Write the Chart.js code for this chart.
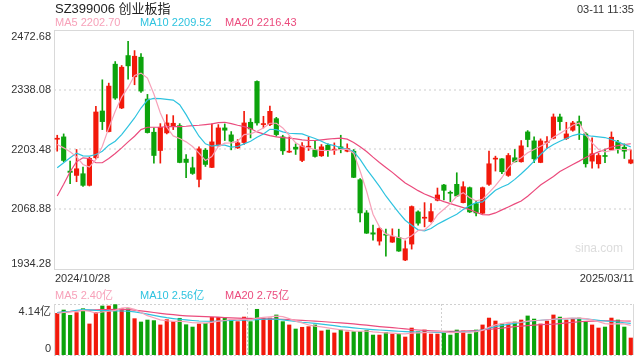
<!DOCTYPE html>
<html>
<head>
<meta charset="utf-8">
<script src="https://cdn.jsdelivr.net/npm/chart.js@4/dist/chart.umd.min.js"></script>
<style>
body { margin: 0; background: #fff; }
#wrap { position: relative; width: 640px; height: 360px; overflow: hidden;
  font-family: "Liberation Sans", Arial, "Noto Sans CJK SC", sans-serif; }
canvas { position: absolute; left: 0; top: 0; }
.t { position: absolute; white-space: nowrap; font-size: 11px; line-height: 12px; color: #333; }
</style>
</head>
<body>
<div id="wrap">
  <canvas id="kline" width="640" height="360"></canvas>
  <canvas id="vol" width="640" height="360"></canvas>
  <div class="t" style="left:55px;top:1px;font-size:13px;line-height:15px;color:#222">SZ399006 创业板指</div>
  <div class="t" style="right:6px;top:3px">03-11 11:35</div>
  <div class="t" id="lg5" style="left:55px;top:16px;color:#f7a1b9"></div>
  <div class="t" id="lg10" style="left:140px;top:16px;color:#2ec3df"></div>
  <div class="t" id="lg20" style="left:225px;top:16px;color:#eb4b7d"></div>
  <div class="t" style="left:575px;top:242px;font-size:12px;color:#dcdcdc">sina.com</div>
  <div class="t" id="d0" style="left:55px;top:272px"></div>
  <div class="t" id="d1" style="right:6px;top:272px"></div>
  <div class="t" id="vl5" style="left:55px;top:289px;color:#f7a1b9"></div>
  <div class="t" id="vl10" style="left:140px;top:289px;color:#2ec3df"></div>
  <div class="t" id="vl20" style="left:225px;top:289px;color:#eb4b7d"></div>
</div>
<script>
// 交易日
const dates = ['2024/10/28','2024/10/29','2024/10/30','2024/10/31',
  '2024/11/01','2024/11/04','2024/11/05','2024/11/06','2024/11/07','2024/11/08',
  '2024/11/11','2024/11/12','2024/11/13','2024/11/14','2024/11/15',
  '2024/11/18','2024/11/19','2024/11/20','2024/11/21','2024/11/22',
  '2024/11/25','2024/11/26','2024/11/27','2024/11/28','2024/11/29',
  '2024/12/02','2024/12/03','2024/12/04','2024/12/05','2024/12/06',
  '2024/12/09','2024/12/10','2024/12/11','2024/12/12','2024/12/13',
  '2024/12/16','2024/12/17','2024/12/18','2024/12/19','2024/12/20',
  '2024/12/23','2024/12/24','2024/12/25','2024/12/26','2024/12/27',
  '2024/12/30','2024/12/31','2025/01/02','2025/01/03',
  '2025/01/06','2025/01/07','2025/01/08','2025/01/09','2025/01/10',
  '2025/01/13','2025/01/14','2025/01/15','2025/01/16','2025/01/17',
  '2025/01/20','2025/01/21','2025/01/22','2025/01/23','2025/01/24','2025/01/27',
  '2025/02/05','2025/02/06','2025/02/07',
  '2025/02/10','2025/02/11','2025/02/12','2025/02/13','2025/02/14',
  '2025/02/17','2025/02/18','2025/02/19','2025/02/20','2025/02/21',
  '2025/02/24','2025/02/25','2025/02/26','2025/02/27','2025/02/28',
  '2025/03/03','2025/03/04','2025/03/05','2025/03/06','2025/03/07',
  '2025/03/10','2025/03/11'];

const open = [2226.6,2231.9,2154.9,2145.1,2148.9,2122.7,2184.8,2290.2,2243.9,2395.7,
  2297.0,2415.1,2367.2,2411.4,2317.1,2242.4,2201.2,2240.9,2255.1,2257.3,
  2181.8,2162.3,2136.2,2202.0,2163.1,2211.7,2252.1,2236.4,2207.2,2219.2,
  2264.8,2356.8,2259.6,2259.6,2273.0,2231.9,2197.5,2208.7,2178.8,2208.7,
  2202.7,2189.3,2213.2,2202.0,2209.5,2199.7,2199.7,2135.4,2060.6,2015.8,
  1997.1,2012.0,1994.8,2005.3,1954.5,1990.4,2062.9,2048.7,2041.2,2089.1,
  2123.5,2106.3,2125.0,2083.8,2117.5,2081.6,2059.9,2125.0,2181.8,2182.5,
  2145.1,2184.8,2175.8,2243.1,2222.9,2174.3,2219.2,2228.9,2276.8,2228.2,
  2246.9,2266.3,2238.6,2177.3,2171.3,2189.3,2202.7,2219.9,2208.7,2172.8];
const high = [2235.6,2238.6,2177.3,2203.5,2163.8,2186.3,2300.7,2360.5,2353.0,2401.6,
  2392.7,2447.3,2426.3,2419.6,2327.6,2252.1,2261.8,2282.0,2279.8,2261.8,
  2192.3,2186.3,2209.5,2205.7,2261.1,2259.6,2261.1,2243.9,2225.9,2289.5,
  2273.0,2358.3,2278.3,2301.4,2276.0,2235.6,2231.9,2216.2,2219.2,2231.9,
  2222.2,2214.7,2216.2,2218.4,2235.6,2216.2,2203.5,2137.7,2065.9,2033.0,
  2027.7,2024.0,2024.8,2024.0,1997.8,2076.4,2065.1,2083.8,2081.6,2116.7,
  2125.0,2110.0,2151.1,2130.9,2119.0,2087.6,2119.0,2199.7,2188.5,2183.3,
  2194.5,2203.5,2223.7,2246.1,2231.9,2227.4,2232.6,2283.5,2283.5,2264.8,
  2267.0,2279.0,2241.6,2229.6,2194.5,2204.2,2243.1,2224.4,2216.2,2202.7];
const low = [2199.7,2175.8,2126.5,2130.9,2120.5,2121.2,2182.5,2248.3,2243.1,2316.4,
  2295.5,2362.0,2349.3,2332.1,2240.5,2172.8,2172.8,2238.6,2248.3,2173.5,
  2139.9,2147.4,2119.0,2165.3,2162.3,2211.0,2223.7,2202.7,2205.7,2214.7,
  2229.6,2258.1,2252.1,2257.3,2233.4,2192.3,2196.7,2192.3,2175.8,2201.2,
  2186.3,2187.8,2187.8,2192.3,2196.0,2198.2,2140.0,2040.5,2014.3,1999.3,
  1988.1,1963.4,1994.1,1973.9,1953.0,1979.1,2033.0,2029.2,2039.7,2087.6,
  2089.8,2086.1,2097.3,2083.1,2061.4,2053.9,2059.2,2122.7,2154.9,2148.9,
  2142.9,2175.1,2175.0,2209.5,2173.6,2173.6,2205.7,2227.4,2246.9,2225.9,
  2244.6,2225.9,2163.8,2161.6,2161.6,2173.6,2201.2,2195.3,2183.3,2171.3];
const close = [2228.2,2178.8,2151.9,2160.1,2122.7,2183.3,2288.0,2266.3,2346.3,2319.4,
  2388.9,2391.9,2413.6,2335.1,2241.6,2190.0,2253.6,2263.3,2262.6,2174.3,
  2174.3,2149.6,2205.0,2169.8,2220.7,2252.1,2246.9,2222.2,2218.4,2263.3,
  2249.8,2263.3,2261.1,2289.5,2237.1,2200.5,2199.0,2204.2,2211.7,2210.2,
  2187.8,2209.5,2202.0,2203.5,2204.2,2205.7,2140.7,2060.6,2015.0,2012.8,
  2025.5,2010.5,2007.6,1974.7,1979.9,2074.9,2037.5,2050.2,2063.6,2101.0,
  2111.5,2104.8,2098.8,2119.7,2062.9,2060.6,2117.5,2171.3,2183.3,2153.4,
  2190.0,2175.8,2211.7,2225.9,2182.5,2222.9,2220.7,2276.8,2266.3,2238.6,
  2263.3,2257.3,2171.3,2193.8,2190.0,2187.8,2231.1,2205.7,2199.7,2180.3];

const ma5 = [2214.7,2207.2,2198.2,2187.0,2169.8,2163.8,2181.0,2210.9,2252.1,2289.5,
  2321.6,2343.3,2370.2,2375.5,2364.3,2328.4,2285.7,2253.6,2234.1,2228.2,
  2220.7,2210.2,2195.3,2178.8,2187.8,2210.2,2217.7,2218.4,2222.2,2237.1,
  2238.6,2244.6,2252.1,2262.6,2262.6,2252.1,2235.6,2218.4,2210.2,2207.2,
  2203.5,2201.2,2201.2,2202.0,2203.5,2204.2,2195.3,2154.9,2110.0,2057.7,
  2029.2,2012.8,2009.0,2005.3,2001.6,2009.0,2021.0,2022.5,2035.2,2056.2,
  2068.9,2081.6,2098.0,2106.3,2095.0,2087.6,2091.3,2106.3,2122.0,2139.9,
  2162.3,2177.3,2184.8,2196.0,2203.5,2210.9,2218.4,2231.1,2239.4,2248.3,
  2258.1,2263.3,2237.1,2218.4,2203.5,2198.2,2201.2,2203.5,2203.5,2202.70];
const ma10 = [2162.3,2173.6,2184.8,2195.3,2189.3,2188.5,2192.3,2199.7,2213.2,2222.2,
  2237.1,2255.8,2274.5,2296.9,2314.9,2318.6,2317.9,2316.4,2314.9,2304.4,
  2282.0,2256.6,2233.4,2216.2,2210.9,2213.2,2213.2,2208.7,2210.2,2216.2,
  2222.2,2231.1,2238.6,2249.1,2248.3,2243.1,2240.1,2239.4,2238.6,2233.4,
  2228.2,2222.2,2215.4,2212.4,2207.2,2204.2,2199.0,2181.0,2159.3,2139.9,
  2120.5,2098.8,2080.1,2061.4,2044.2,2033.0,2022.5,2020.3,2025.5,2035.2,
  2042.7,2050.2,2057.7,2068.1,2077.1,2083.8,2085.3,2098.8,2111.5,2119.0,
  2125.0,2136.2,2148.9,2162.3,2177.3,2192.3,2205.7,2214.7,2222.2,2228.2,
  2234.9,2238.6,2235.6,2233.4,2231.9,2230.4,2225.9,2220.7,2214.7,2209.52];
const ma20 = [2098.8,2125.0,2153.4,2175.8,2184.8,2183.3,2173.6,2173.6,2183.3,2194.5,
  2207.2,2220.7,2233.4,2248.3,2253.6,2253.6,2253.6,2255.1,2255.1,2255.1,
  2255.8,2257.3,2258.1,2259.6,2261.1,2264.0,2264.8,2261.8,2258.1,2255.1,
  2250.6,2243.1,2238.6,2234.9,2231.9,2230.4,2228.9,2227.4,2225.2,2223.7,
  2223.7,2225.2,2226.7,2228.2,2228.9,2226.7,2219.2,2209.5,2199.0,2186.3,
  2174.3,2163.1,2151.9,2139.9,2127.9,2119.7,2110.8,2103.3,2097.3,2091.3,
  2086.1,2081.6,2077.1,2072.6,2068.1,2062.1,2056.9,2056.2,2060.6,2067.4,
  2074.1,2080.9,2087.6,2098.0,2110.8,2123.5,2133.2,2142.9,2154.1,2161.6,
  2169.8,2177.3,2185.5,2192.3,2198.2,2203.5,2208.7,2212.4,2214.7,2216.43];

// 成交量（亿）
const volume = [3.38,3.65,3.22,3.44,3.76,2.52,3.46,3.98,3.98,4.09,
  3.76,3.76,2.95,2.68,2.84,2.79,2.44,2.87,2.71,2.98,
  2.46,2.27,2.52,2.57,3.06,3.06,3.03,2.87,2.71,3.08,
  2.71,3.71,2.98,3.00,3.25,2.71,2.44,2.11,2.25,2.30,
  2.44,1.95,2.03,1.79,2.03,1.87,1.89,1.89,2.00,1.62,
  1.62,1.84,1.70,1.70,1.46,2.19,1.89,2.03,1.70,1.70,
  1.87,1.62,2.03,1.95,1.70,2.03,2.44,3.00,2.76,2.52,
  2.52,2.68,2.84,3.17,2.92,2.52,2.76,3.25,3.08,2.84,
  2.92,3.00,2.68,2.44,2.19,2.27,3.00,2.84,2.27,1.38];
const volMa5 = [3.38,3.45,3.50,3.55,3.62,3.55,3.40,3.50,3.55,3.62,
  3.80,3.85,3.70,3.45,3.20,3.02,2.85,2.78,2.73,2.75,
  2.70,2.62,2.60,2.58,2.65,2.75,2.80,2.90,2.85,2.90,
  2.85,3.00,3.05,3.10,3.15,3.12,2.95,2.75,2.60,2.45,
  2.35,2.28,2.20,2.12,2.05,2.00,1.95,1.93,1.95,1.88,
  1.83,1.80,1.78,1.74,1.72,1.78,1.80,1.82,1.85,1.92,
  1.88,1.82,1.84,1.86,1.85,1.90,2.00,2.25,2.45,2.55,
  2.65,2.66,2.66,2.75,2.80,2.82,2.86,2.90,2.95,2.98,
  2.99,3.00,2.95,2.85,2.70,2.55,2.50,2.55,2.52,2.40];
const volMa10 = [3.44,3.50,3.55,3.62,3.68,3.66,3.62,3.60,3.60,3.58,
  3.57,3.55,3.50,3.42,3.32,3.22,3.12,3.03,2.96,2.90,
  2.85,2.80,2.76,2.74,2.74,2.76,2.78,2.80,2.82,2.83,
  2.84,2.87,2.90,2.92,2.90,2.85,2.78,2.72,2.66,2.62,
  2.56,2.50,2.44,2.38,2.31,2.26,2.20,2.15,2.10,2.06,
  2.03,2.00,1.96,1.93,1.90,1.88,1.86,1.84,1.83,1.84,
  1.84,1.84,1.86,1.88,1.90,1.95,2.05,2.18,2.30,2.40,
  2.48,2.56,2.64,2.72,2.78,2.82,2.86,2.90,2.94,2.96,
  2.97,2.96,2.93,2.88,2.82,2.76,2.72,2.68,2.62,2.56];
const volMa20 = [3.44,3.48,3.52,3.58,3.62,3.65,3.67,3.68,3.69,3.70,
  3.70,3.68,3.64,3.58,3.52,3.45,3.38,3.32,3.27,3.22,
  3.18,3.15,3.13,3.11,3.10,3.07,3.04,3.02,3.00,2.98,
  2.97,2.96,2.94,2.93,2.92,2.90,2.87,2.84,2.81,2.78,
  2.75,2.72,2.68,2.64,2.60,2.56,2.52,2.47,2.42,2.36,
  2.31,2.27,2.22,2.17,2.12,2.07,2.03,2.00,1.97,1.95,
  1.93,1.91,1.92,1.94,1.96,1.99,2.03,2.08,2.13,2.18,
  2.24,2.30,2.35,2.39,2.43,2.46,2.48,2.50,2.55,2.60,
  2.65,2.70,2.73,2.75,2.77,2.78,2.78,2.77,2.76,2.75];

const priceTicks = [2472.68, 2338.08, 2203.48, 2068.88, 1934.28];
const volTicks = [4.14, 0];

const RED = '#f2190b', GREEN = '#0ca30c';
const C5 = '#f7a1b9', C10 = '#2ec3df', C20 = '#eb4b7d';
const upDown = open.map((o, i) => close[i] >= o ? RED : GREEN);
const last = a => a[a.length - 1].toFixed(2);

document.getElementById('lg5').textContent = 'MA5 ' + last(ma5);
document.getElementById('lg10').textContent = 'MA10 ' + last(ma10);
document.getElementById('lg20').textContent = 'MA20 ' + last(ma20);
document.getElementById('vl5').textContent = 'MA5 ' + last(volMa5) + '亿';
document.getElementById('vl10').textContent = 'MA10 ' + last(volMa10) + '亿';
document.getElementById('vl20').textContent = 'MA20 ' + last(volMa20) + '亿';
document.getElementById('d0').textContent = dates[0];
document.getElementById('d1').textContent = dates[dates.length - 1];

const FONT = '11px "Liberation Sans", Arial, "Noto Sans CJK SC", sans-serif';

function hline(ctx, x0, x1, y) {
  ctx.beginPath(); ctx.moveTo(x0, y); ctx.lineTo(x1, y); ctx.stroke();
}
function vline(ctx, x, y0, y1) {
  ctx.beginPath(); ctx.moveTo(x, y0); ctx.lineTo(x, y1); ctx.stroke();
}

// 主图网格、边框、刻度文字
const priceFrame = {
  id: 'priceFrame',
  beforeDatasetsDraw(chart) {
    const { ctx, chartArea: a, scales: { y } } = chart;
    ctx.save();
    ctx.strokeStyle = '#e6e6e6';
    ctx.lineWidth = 2;
    ctx.setLineDash([2, 3]);
    priceTicks.slice(1, -1).forEach(v => hline(ctx, a.left, a.right, Math.round(y.getPixelForValue(v))));
    ctx.setLineDash([]);
    ctx.lineWidth = 1;
    ctx.strokeStyle = '#d9d9d9';
    ctx.strokeRect(a.left + 0.5, a.top + 0.5, a.right - a.left - 1, a.bottom - a.top);
    ctx.fillStyle = '#333';
    ctx.font = FONT;
    ctx.textAlign = 'right';
    priceTicks.forEach((v, i) => {
      const py = y.getPixelForValue(v);
      ctx.textBaseline = i === 0 ? 'top' : (i === priceTicks.length - 1 ? 'bottom' : 'middle');
      ctx.fillText(v.toFixed(2), a.left - 3, i === 0 ? py + 1 : py);
    });
    ctx.restore();
  }
};

const volFrame = {
  id: 'volFrame',
  beforeDatasetsDraw(chart) {
    const { ctx, chartArea: a, scales: { y } } = chart;
    ctx.save();
    ctx.strokeStyle = '#d0d0d0';
    ctx.lineWidth = 1;
    ctx.setLineDash([2, 2]);
    hline(ctx, a.left, a.right, Math.round(y.getPixelForValue(volTicks[0])) + 0.5);
    hline(ctx, a.left, a.right, Math.round(y.getPixelForValue(0)) + 0.5);
    const w = a.right - a.left;
    vline(ctx, Math.round(a.left + w / 3) + 0.5, a.top, a.bottom);
    vline(ctx, Math.round(a.left + 2 * w / 3) + 0.5, a.top, a.bottom);
    ctx.setLineDash([]);
    ctx.strokeStyle = '#d9d9d9';
    vline(ctx, a.left + 0.5, a.top, a.bottom);
    vline(ctx, a.right - 0.5, a.top, a.bottom);
    ctx.fillStyle = '#333';
    ctx.font = FONT;
    ctx.textAlign = 'right';
    ctx.textBaseline = 'top';
    ctx.fillText(volTicks[0].toFixed(2) + '亿', a.left - 3, y.getPixelForValue(volTicks[0]) + 2);
    ctx.textBaseline = 'bottom';
    ctx.fillText(String(volTicks[1]), a.left - 3, y.getPixelForValue(0) - 1);
    ctx.restore();
  }
};

function maLine(label, data, color) {
  return { type: 'line', label, data, borderColor: color, borderWidth: 1.2,
    pointRadius: 0, tension: 0, order: 0 };
}

const hidden = { display: false };

new Chart(document.getElementById('kline'), {
  type: 'bar',
  data: {
    labels: dates,
    datasets: [
      maLine('MA5', ma5, C5),
      maLine('MA10', ma10, C10),
      maLine('MA20', ma20, C20),
      { label: 'body', data: open.map((o, i) => [o, close[i]]), backgroundColor: upDown,
        barThickness: 4.5, minBarLength: 1, grouped: false, order: 1 },
      { label: 'wick', data: low.map((l, i) => [l, high[i]]), backgroundColor: upDown,
        barThickness: 1, grouped: false, order: 2 }
    ]
  },
  options: {
    responsive: false,
    animation: false,
    devicePixelRatio: 1,
    layout: { padding: { left: 54, right: 6, top: 30, bottom: 91 } },
    plugins: { legend: hidden, tooltip: { enabled: false } },
    scales: {
      x: { display: false, offset: true },
      y: { display: false, min: priceTicks[priceTicks.length - 1], max: priceTicks[0] }
    }
  },
  plugins: [priceFrame]
});

new Chart(document.getElementById('vol'), {
  type: 'bar',
  data: {
    labels: dates,
    datasets: [
      maLine('MA5', volMa5, C5),
      maLine('MA10', volMa10, C10),
      maLine('MA20', volMa20, C20),
      { label: 'volume', data: volume, backgroundColor: upDown, barThickness: 3.5, order: 1 }
    ]
  },
  options: {
    responsive: false,
    animation: false,
    devicePixelRatio: 1,
    layout: { padding: { left: 54, right: 6, top: 304, bottom: 5 } },
    plugins: { legend: hidden, tooltip: { enabled: false } },
    scales: {
      x: { display: false, offset: true },
      y: { display: false, min: 0, max: volTicks[0] }
    }
  },
  plugins: [volFrame]
});
</script>
</body>
</html>
